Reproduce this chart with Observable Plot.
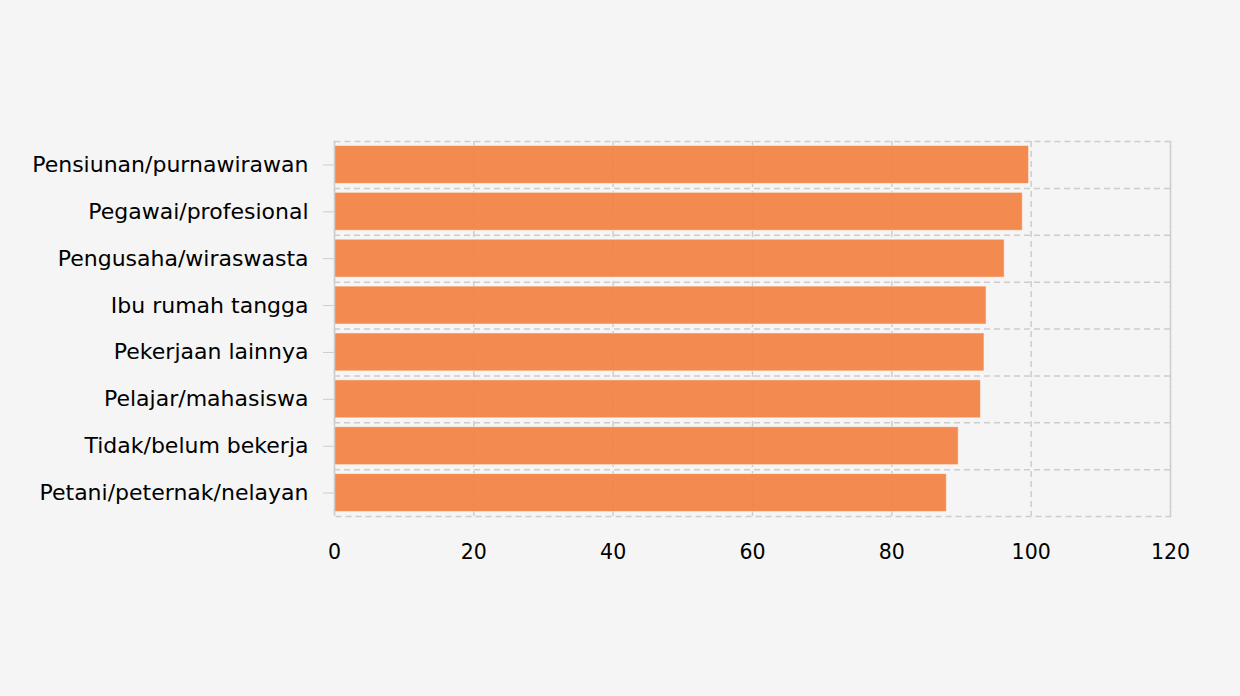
<!DOCTYPE html>
<html>
<head>
<meta charset="utf-8">
<script src="https://cdn.jsdelivr.net/npm/d3@7"></script>
<script src="https://cdn.jsdelivr.net/npm/@observablehq/plot@0.6"></script>
<style>
  html, body { margin: 0; padding: 0; background: #f5f5f5; }
  #chart { width: 1240px; height: 696px; }
</style>
</head>
<body>
<div id="chart"></div>
<script>
const categories = [
  "Pensiunan/purnawirawan",
  "Pegawai/profesional",
  "Pengusaha/wiraswasta",
  "Ibu rumah tangga",
  "Pekerjaan lainnya",
  "Pelajar/mahasiswa",
  "Tidak/belum bekerja",
  "Petani/peternak/nelayan"
];
const values = [99.7, 98.8, 96.2, 93.6, 93.3, 92.8, 89.6, 87.9];
const xTicks = [0, 20, 40, 60, 80, 100, 120];

const data = categories.map((c, i) => ({category: c, value: values[i]}));

const W = 1240, H = 696;
const mTop = 141, mBottom = 180, mLeft = 334, mRight = 70;
const step = (H - mTop - mBottom) / categories.length;
const grid = "#cdcdcd";

const chart = Plot.plot({
  width: W,
  height: H,
  marginTop: mTop,
  marginBottom: mBottom,
  marginLeft: mLeft,
  marginRight: mRight,
  style: {background: "#f5f5f5", fontFamily: "DejaVu Sans", color: "#000"},
  x: {domain: [0, 120], ticks: xTicks},
  y: {domain: categories, paddingInner: 0.19, paddingOuter: 0.095, round: false, label: null},
  marks: [
    Plot.frame({stroke: grid, strokeWidth: 1.5, strokeDasharray: "6,4"}),
    Plot.ruleX(xTicks.slice(1), {stroke: grid, strokeWidth: 1.5, strokeDasharray: "6,4"}),
    Plot.ruleY(categories.slice(1), {y: d => d, dy: -step / 2, stroke: grid, strokeWidth: 1.5, strokeDasharray: "6,4"}),
    Plot.barX(data, {x: "value", y: "category", fill: "#f3803e", fillOpacity: 0.9, stroke: "#ffffff", strokeOpacity: 0.5, strokeWidth: 1}),
    Plot.ruleX([0], {stroke: grid, strokeWidth: 1.5}),
    Plot.axisX({ticks: xTicks, tickSize: 0, tickPadding: 28, fontSize: 20.5, label: null, fill: "#000"}),
    Plot.axisY({tickSize: 11, tickPadding: 15, fontSize: 22, label: null, stroke: grid, fill: "#000"})
  ]
});
document.getElementById("chart").appendChild(chart);
</script>
</body>
</html>
